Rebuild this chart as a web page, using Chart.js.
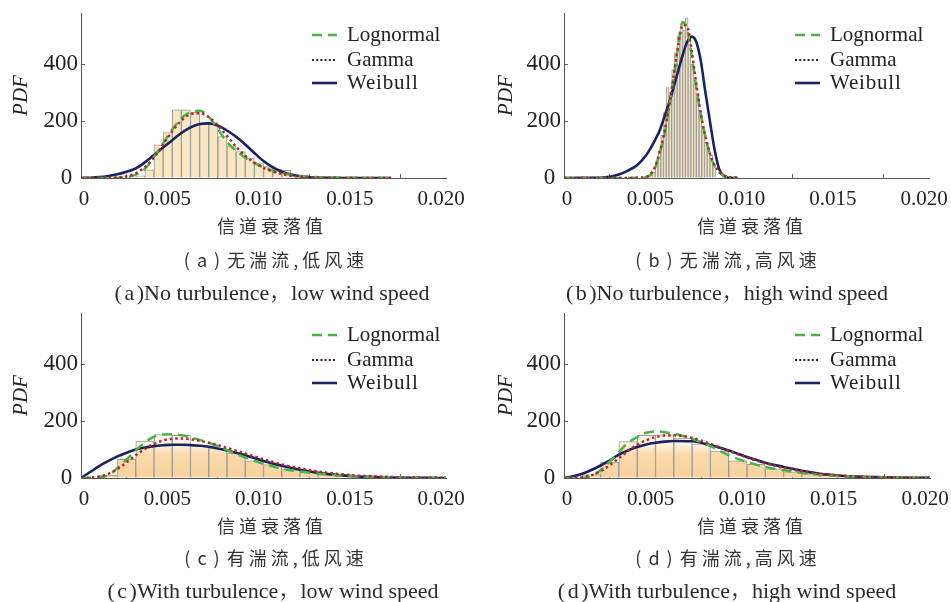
<!DOCTYPE html>
<html>
<head>
<meta charset="utf-8">
<script src="https://cdn.jsdelivr.net/npm/chart.js@4.4.1/dist/chart.umd.min.js"></script>
<style>
  body { margin: 0; background: #fff; width: 951px; height: 602px; position: relative; overflow: hidden;
         font-family: "Liberation Serif", "Times New Roman", serif; color: #2a2a2a; }
  .panel { position: absolute; width: 471px; height: 215px; }
  .cap { position: absolute; white-space: nowrap; transform: translateX(-50%); line-height: 1; }
  .cn { font-family: "Noto Sans CJK SC", sans-serif; font-weight: 400; font-size: 18px; letter-spacing: 4px; color: #333; }
  .cn .tag { letter-spacing: 7px; }
  .en { font-size: 22px; }
  .en .tag { letter-spacing: 2.5px; }
  .fw { font-family: "Noto Sans CJK SC", sans-serif; font-weight: 300; }
</style>
</head>
<body>
<div class="panel" style="left:0;top:0"><canvas id="chartA" width="471" height="215"></canvas></div>
<div class="panel" style="left:480px;top:0"><canvas id="chartB" width="471" height="215"></canvas></div>
<div class="panel" style="left:0;top:300px"><canvas id="chartC" width="471" height="215"></canvas></div>
<div class="panel" style="left:480px;top:300px"><canvas id="chartD" width="471" height="215"></canvas></div>

<div class="cap cn" style="left:272px;top:216px">信道衰落值</div>
<div class="cap cn" style="left:276px;top:250px"><span class="tag">(a)</span>无湍流,低风速</div>
<div class="cap en" style="left:272px;top:279px"><span class="tag">(a</span>)No turbulence<span class="fw">，</span>low wind speed</div>
<div class="cap cn" style="left:752px;top:216px">信道衰落值</div>
<div class="cap cn" style="left:728px;top:250px"><span class="tag">(b)</span>无湍流,高风速</div>
<div class="cap en" style="left:727px;top:279px"><span class="tag">(b</span>)No turbulence<span class="fw">，</span>high wind speed</div>
<div class="cap cn" style="left:272px;top:516px">信道衰落值</div>
<div class="cap cn" style="left:276px;top:548px"><span class="tag">(c)</span>有湍流,低风速</div>
<div class="cap en" style="left:273px;top:577px"><span class="tag">(c</span>)With turbulence<span class="fw">，</span>low wind speed</div>
<div class="cap cn" style="left:752px;top:516px">信道衰落值</div>
<div class="cap cn" style="left:728px;top:548px"><span class="tag">(d)</span>有湍流,高风速</div>
<div class="cap en" style="left:727px;top:577px"><span class="tag">(d</span>)With turbulence<span class="fw">，</span>high wind speed</div>

<script>
// 信道衰落值的直方图与三种拟合分布 (Lognormal / Gamma / Weibull)

const xTicks = [0, 0.005, 0.01, 0.015, 0.02];
const xTickLabels = ['   0', '0.005', '0.010', '0.015', '0.020'];
const yTicks = [0, 200, 400];
const yTickLabels = ['0 ', '200', '400'];
const legendLabels = ['Lognormal', 'Gamma', 'Weibull'];

// (a) 无湍流, 低风速
const binsA = [0.00325, 0.00375, 0.00425, 0.00475, 0.00525, 0.00575, 0.00625, 0.00675, 0.00725,
               0.00775, 0.00825, 0.00875, 0.00925, 0.00975, 0.01025, 0.01075, 0.01125];
const histA = [8, 29, 117, 160, 240, 240, 232, 193, 191, 146, 113, 93, 70, 53, 40, 31, 27];
const curveXA = [0, 0.0005, 0.001, 0.0015, 0.002, 0.0025, 0.003, 0.0035, 0.004, 0.0045, 0.005, 0.0055,
                 0.006, 0.0065, 0.007, 0.0075, 0.008, 0.0085, 0.009, 0.0095, 0.01, 0.0105, 0.011, 0.0115,
                 0.012, 0.0125, 0.013, 0.0135, 0.014, 0.0145, 0.015, 0.0155, 0.016, 0.0165, 0.017];
const lognA = [0, 0, 0, 0, 0.5, 3, 12, 32, 75, 122, 170, 210, 232, 236, 215, 172, 126, 96, 72, 52, 38,
               26, 17, 11, 7, 5, 3, 2, 1.5, 1, 0.5, 0.3, 0.2, 0.1, 0];
const gammaA = [0, 0, 0, 0.5, 2, 6, 16, 38, 72, 118, 165, 202, 224, 228, 214, 184, 148, 110, 78, 54, 36,
                23, 14, 8, 5, 3, 1.5, 1, 0.5, 0.3, 0, 0, 0, 0, 0];
const weibA = [0, 1, 3, 7, 13, 22, 34, 55, 81, 107, 133, 158, 178, 190, 192, 184, 167, 145, 118, 88, 60,
               38, 22, 12, 6, 2.5, 1, 0.5, 0, 0, 0, 0, 0, 0, 0];

// (b) 无湍流, 高风速
const binsB = [0.004775, 0.004925, 0.005075, 0.005225, 0.005375, 0.005525, 0.005675, 0.005825,
               0.005975, 0.006125, 0.006275, 0.006425, 0.006575, 0.006725, 0.006875, 0.007025,
               0.007175, 0.007325, 0.007475, 0.007625, 0.007775, 0.007925, 0.008075, 0.008225];
const histB = [10, 20, 50, 95, 150, 230, 318, 300, 380, 440, 500, 530, 520, 563, 480, 400,
               330, 285, 225, 170, 125, 95, 80, 40];
const curveXB = [0, 0.001, 0.002, 0.0025, 0.003, 0.0035, 0.004, 0.0045, 0.00475, 0.005, 0.00525,
                 0.0055, 0.00575, 0.006, 0.00625, 0.0065, 0.00675, 0.007, 0.00725, 0.0075, 0.00775,
                 0.008, 0.00825, 0.0085, 0.00875, 0.009, 0.0095];
const lognB = [0, 0, 0, 0, 0, 0, 0.5, 3, 12, 38, 90, 152, 245, 352, 462, 548, 522, 430, 318, 222,
               145, 82, 42, 20, 8, 3, 0.5];
const gammaB = [0, 0, 0, 0, 0, 0, 1, 4, 14, 42, 92, 160, 250, 355, 462, 538, 532, 445, 330, 225,
                145, 85, 46, 22, 10, 4, 1];
const weibB = [0, 0.5, 1, 4, 12, 26, 45, 80, 105, 135, 168, 215, 262, 318, 375, 432, 478, 497, 478,
               410, 300, 198, 100, 32, 8, 1, 0];

// (c) 有湍流, 低风速
const binsCD = [0.0005, 0.0015, 0.0025, 0.0035, 0.0045, 0.0055, 0.0065, 0.0075, 0.0085, 0.0095,
                0.0105, 0.0115, 0.0125, 0.0135, 0.0145, 0.0155, 0.0165, 0.0175, 0.0185, 0.0195];
const histC = [0, 10, 66, 130, 153, 150, 112, 103, 88, 60, 47, 30, 23, 13, 9, 6, 4, 3, 2, 1];
const curveXCD = [0, 0.0005, 0.001, 0.0015, 0.002, 0.0025, 0.003, 0.0035, 0.004, 0.0045, 0.005,
                  0.0055, 0.006, 0.007, 0.008, 0.009, 0.01, 0.011, 0.012, 0.013, 0.014, 0.015,
                  0.016, 0.017, 0.018, 0.019, 0.02];
const lognC = [0, 0, 2, 10, 35, 65, 97, 125, 145, 153, 154, 150, 143, 124, 98, 72, 50, 33, 23, 15,
               10, 6, 4, 3, 2, 1, 0.5];
const gammaC = [0, 1, 5, 15, 32, 55, 80, 102, 120, 132, 138, 139, 136, 124, 106, 86, 66, 48, 34, 23,
                15, 9, 6, 3.5, 2, 1, 0.5];
const weibC = [0, 21, 42, 60, 76, 89, 100, 107, 112, 115, 117, 117, 116, 110, 97, 80, 60, 43, 29, 18,
               11, 6, 3, 1.5, 0.7, 0.3, 0];

// (d) 有湍流, 高风速
const histD = [0, 12, 56, 128, 150, 152, 140, 120, 95, 60, 48, 32, 22, 15, 9, 5, 4, 3, 2, 1];
const lognD = [0, 0, 0, 7, 27, 58, 91, 124, 144, 159, 164, 161, 156, 138, 112, 80, 56, 39, 27, 18,
               11, 7, 5, 3, 2, 1.5, 1];
const gammaD = [0, 1, 3, 10, 24, 45, 70, 95, 117, 133, 144, 149, 150, 141, 120, 96, 72, 52, 36, 24,
                15, 9, 5.5, 3, 2, 1, 0.5];
const weibD = [0, 6, 15, 28, 44, 62, 82, 97, 109, 118, 124, 128, 130, 129, 115, 97, 74, 54, 39, 25,
               15, 9, 5, 3, 1.5, 0.7, 0.3];

const lognColor = '#45b543';
const gammaColor = '#b3282c';
const weibColor = '#1b2163';
const serif = 'Liberation Serif';

Chart.defaults.font.family = serif;
Chart.defaults.color = '#222';

// 图例画在绘图区右上角
const insideLegend = {
  id: 'insideLegend',
  afterDatasetsDraw(chart) {
    const { ctx, chartArea } = chart;
    const styles = [
      { color: lognColor, dash: [10, 6], width: 2.5 },
      { color: '#3b2222', dash: [2, 2.2], width: 2.2 },
      { color: weibColor, dash: [], width: 2.6 },
    ];
    const rows = [22, 47, 70];
    const x0 = chartArea.left + 231;
    ctx.save();
    legendLabels.forEach((label, i) => {
      const y = chartArea.top + rows[i];
      ctx.beginPath();
      ctx.setLineDash(styles[i].dash);
      ctx.strokeStyle = styles[i].color;
      ctx.lineWidth = styles[i].width;
      ctx.moveTo(x0, y);
      ctx.lineTo(x0 + 25, y);
      ctx.stroke();
      ctx.setLineDash([]);
      ctx.fillStyle = '#222';
      ctx.font = '21px ' + serif;
      ctx.textBaseline = 'middle';
      if (label === 'Weibull') ctx.letterSpacing = '0.8px';
      ctx.fillText(label, x0 + 35, y);
      ctx.letterSpacing = '0px';
    });
    ctx.restore();
  }
};

// 有湍流时直方图上部泛白
function hazeFill(c) {
  const chart = c.chart;
  if (!chart.chartArea) return '#f9d8a9';
  const y = chart.scales.y;
  const g = chart.ctx.createLinearGradient(0, y.getPixelForValue(0), 0, y.getPixelForValue(160));
  g.addColorStop(0, '#f8d3a0');
  g.addColorStop(0.5, '#f9d8aa');
  g.addColorStop(0.72, '#fdf0dd');
  g.addColorStop(1, '#ffffff');
  return g;
}

function axisCommon() {
  return {
    grid: { display: true, drawOnChartArea: false, drawTicks: true, tickLength: -4, color: '#666' },
    border: { display: true, color: '#555', width: 1 },
  };
}

function drawPanel(id, o) {
  const bars = o.bins.map((x, i) => ({ x, y: o.hist[i] }));
  const pts = ys => o.curveX.map((x, i) => ({ x, y: ys[i] }));
  const line = { type: 'line', pointRadius: 0, fill: false, cubicInterpolationMode: 'monotone' };
  return new Chart(document.getElementById(id), {
    type: 'bar',
    data: {
      datasets: [
        { ...line, label: 'Gamma', data: pts(o.gamma), borderColor: gammaColor, borderWidth: 2.5, borderDash: [2.5, 3], order: 1 },
        { ...line, label: 'Lognormal', data: pts(o.logn), borderColor: lognColor, borderWidth: 2.5, borderDash: [10, 6], order: 2 },
        { ...line, label: 'Weibull', data: pts(o.weib), borderColor: weibColor, borderWidth: 2.6, order: 3 },
        { label: 'hist', data: bars, backgroundColor: o.fill, borderColor: '#9c9a94', borderWidth: 1,
          barPercentage: 1, categoryPercentage: 1, order: 4 },
      ],
    },
    options: {
      responsive: false,
      animation: false,
      layout: { padding: { top: 13, right: o.rightPad, left: 0, bottom: 0 } },
      plugins: { legend: { display: false }, tooltip: { enabled: false } },
      scales: {
        x: {
          ...axisCommon(),
          type: 'linear', min: 0, max: 0.02, offset: false,
          afterBuildTicks: s => { s.ticks = xTicks.map(v => ({ value: v })); },
          afterFit: s => { s.height = 37; s.paddingLeft = 0; s.paddingRight = 0; },
          ticks: { padding: 13, font: { size: 21 }, maxRotation: 0, autoSkip: false, labelOffset: -5,
                   callback: (v, i) => xTickLabels[i] },
        },
        y: {
          ...axisCommon(),
          min: 0, max: 580,
          afterBuildTicks: s => { s.ticks = yTicks.map(v => ({ value: v })); },
          afterFit: s => { s.width = o.yw; s.paddingTop = 0; s.paddingBottom = 0; },
          ticks: { padding: 7, font: { size: 23 }, callback: (v, i) => yTickLabels[i] },
          title: { display: true, text: 'PDF', font: { size: 21, style: 'italic' },
                   padding: { top: o.titlePad, bottom: 0 } },
        },
      },
    },
    plugins: [insideLegend],
  });
}

function drawAll() {
  drawPanel('chartA', { bins: binsA, hist: histA, curveX: curveXA, logn: lognA, gamma: gammaA, weib: weibA,
                        fill: '#f7e7c3', yw: 81, rightPad: 25, titlePad: 9 });
  drawPanel('chartB', { bins: binsB, hist: histB, curveX: curveXB, logn: lognB, gamma: gammaB, weib: weibB,
                        fill: '#f4e8c9', yw: 84, rightPad: 22, titlePad: 14 });
  drawPanel('chartC', { bins: binsCD, hist: histC, curveX: curveXCD, logn: lognC, gamma: gammaC, weib: weibC,
                        fill: hazeFill, yw: 81, rightPad: 25, titlePad: 9 });
  drawPanel('chartD', { bins: binsCD, hist: histD, curveX: curveXCD, logn: lognD, gamma: gammaD, weib: weibD,
                        fill: hazeFill, yw: 84, rightPad: 21, titlePad: 14 });
}

Promise.all([
  document.fonts.load('21px "' + serif + '"'),
  document.fonts.load('italic 21px "' + serif + '"'),
]).then(drawAll, drawAll);
</script>
</body>
</html>
